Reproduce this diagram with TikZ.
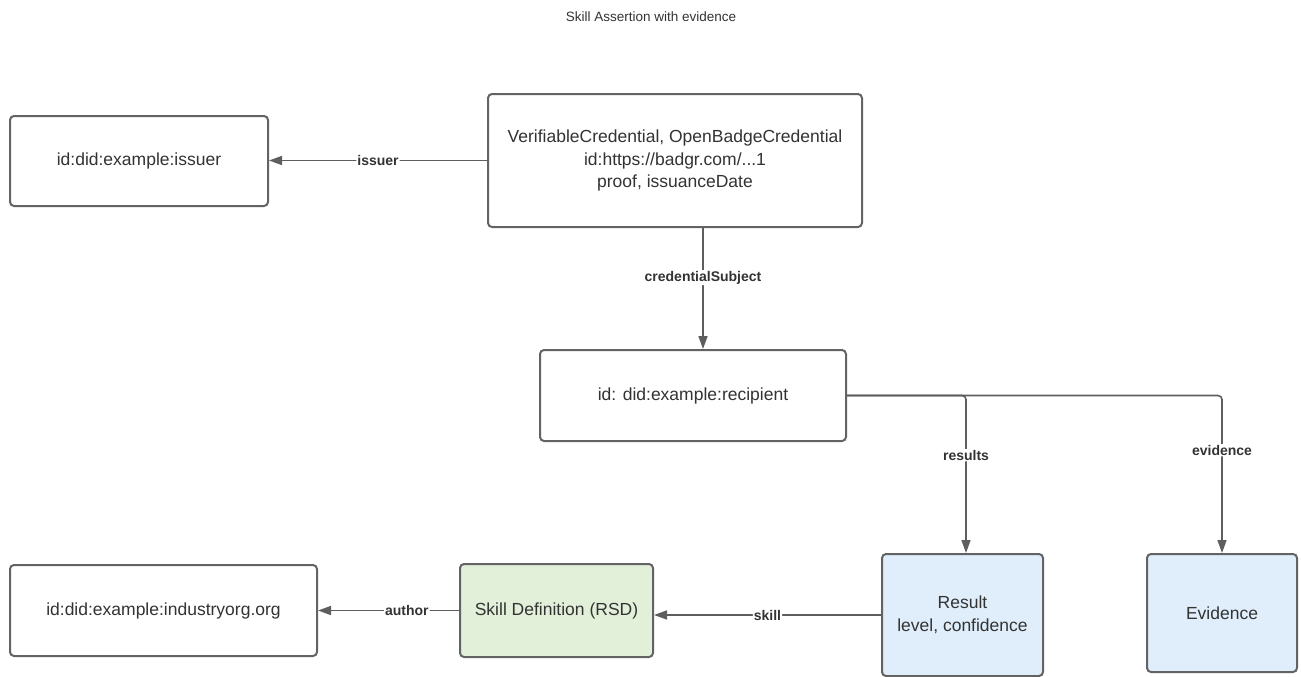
\documentclass[tikz,border=0pt]{standalone}
\usepackage{fontspec}
\setmainfont{Liberation Sans}
\usetikzlibrary{arrows.meta}

\definecolor{edgegrey}{HTML}{5E5E5E}
\definecolor{boxgrey}{HTML}{636363}
\definecolor{textgrey}{HTML}{333333}
\definecolor{resultblue}{HTML}{DFEEFA}
\definecolor{skillgreen}{HTML}{E3F0D9}

\tikzset{
  entity/.style={draw=boxgrey, line width=2pt, rounded corners=4pt, fill=white,
    text=textgrey, align=center, inner sep=0pt,
    font=\fontsize{17.5}{22.5}\selectfont},
  bluebox/.style={entity, fill=resultblue},
  greenbox/.style={entity, fill=skillgreen},
  link/.style={draw=edgegrey, line width=1.6pt,
    -{Triangle[length=13pt,width=9pt]}, rounded corners=4pt},
  linklabel/.style={fill=white, text=textgrey, inner sep=1pt,
    font=\bfseries\fontsize{14}{16}\selectfont},
}

\begin{document}
\begin{tikzpicture}[x=1pt, y=-1pt]
  \useasboundingbox (0,0) rectangle (1301,677);

  % title
  \node[text=textgrey, font=\fontsize{13.5}{16}\selectfont] (title) at (651,17)
    {Skill Assertion with evidence};

  % entities
  \node[entity, minimum width=258pt, minimum height=90pt] (issuer) at (139,161)
    {id:did:example:issuer};
  \node[entity, minimum width=374pt, minimum height=133pt] (vc) at (675,160.5)
    {VerifiableCredential, OpenBadgeCredential\\id:https://badgr.com/...1\\proof, issuanceDate};
  \node[entity, minimum width=306pt, minimum height=91pt] (rec) at (693,395.5)
    {id: did:example:recipient};
  \node[entity, minimum width=307pt, minimum height=91pt] (org) at (163.5,610.5)
    {id:did:example:industryorg.org};
  \node[greenbox, minimum width=193pt, minimum height=93pt] (skill) at (556.5,610.5)
    {Skill Definition (RSD)};
  \node[bluebox, minimum width=161pt, minimum height=122pt] (res) at (962.5,615)
    {Result\\level, confidence};
  \node[bluebox, minimum width=150pt, minimum height=118pt] (ev) at (1222,613)
    {Evidence};

  % columns used by the vertical links
  \coordinate (csx) at (703,0);
  \coordinate (resx) at (966,0);

  % links
  \draw[link] (vc.west) -- node[linklabel, pos=0.5] {issuer} (vc.west -| issuer.east);
  \draw[link] (vc.south -| csx) -- node[linklabel, pos=0.41] {credentialSubject} (rec.north -| csx);
  \draw[link] (rec.east) -| node[linklabel, pos=0.69] {results} (res.north -| resx);
  \draw[link] (rec.east) -| node[linklabel, pos=0.674] {evidence} (ev.north);
  \draw[link] (res.west) -- node[linklabel, pos=0.5] {skill} (res.west -| skill.east);
  \draw[link] (skill.west) -- node[linklabel, pos=0.37] {author} (skill.west -| org.east);
\end{tikzpicture}
\end{document}
